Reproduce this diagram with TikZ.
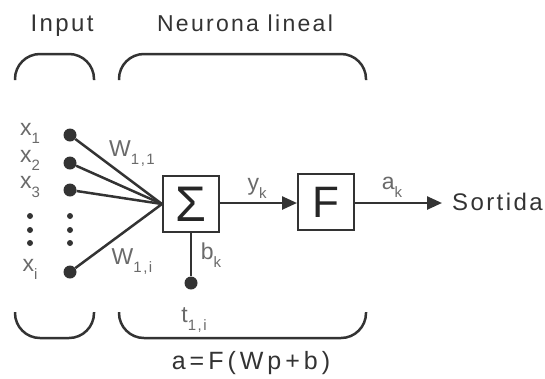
\documentclass[tikz,border=0pt]{standalone}
\usepackage{fontspec}
\setmainfont{Liberation Sans}[LetterSpace=10]
\newfontfamily\widefont{Liberation Sans}[LetterSpace=16]
\usetikzlibrary{arrows.meta}
\definecolor{ink}{HTML}{333333}
\definecolor{lbl}{HTML}{6A6A6A}
\newcommand{\lsub}[1]{\raisebox{-0.35em}{\fontsize{15}{15}\selectfont #1}}
\tikzset{
  dot/.style={circle,fill=ink,inner sep=0pt,minimum size=13pt},
  sdot/.style={circle,fill=ink,inner sep=0pt,minimum size=6pt},
  blk/.style={draw=ink,line width=2pt,minimum size=56pt,inner sep=0pt,text=black!85},
  wire/.style={draw=ink,line width=2.5pt},
  arr/.style={wire,-{Triangle[length=15pt,width=13pt]}},
  brk/.style={draw=ink,line width=2.5pt,rounded corners=25pt},
  lab/.style={text=lbl,font=\fontsize{23}{23}\selectfont,inner sep=0pt},
  head/.style={text=ink,font=\fontsize{23}{23}\selectfont,inner sep=0pt,anchor=base},
}
\begin{document}
\begin{tikzpicture}[x=1pt,y=-1pt]
\useasboundingbox (0,0) rectangle (545,378);
% headers
\node[head,font=\fontsize{24}{24}\selectfont] (hin) at (62,31) {Input};
\node[head] (hneu) at (245,31) {Neurona lineal};
% brackets
\draw[brk] (15,80) -- (15,54) -- (94,54) -- (94,80);
\draw[brk] (119,80) -- (119,54) -- (366,54) -- (366,80);
\draw[brk] (15,312) -- (15,338) -- (94,338) -- (94,312);
\draw[brk] (119,312) -- (119,338) -- (366,338) -- (366,312);
% inputs
\node[dot] (i1) at (70,135) {};
\node[dot] (i2) at (70,163) {};
\node[dot] (i3) at (70,190) {};
\node[dot] (ii) at (70,272) {};
\node[lab] (x1) at (30,133) {x\lsub{1}};
\node[lab] (x2) at (30,160) {x\lsub{2}};
\node[lab] (x3) at (30,187) {x\lsub{3}};
\node[lab] (xi) at (30,269) {x\lsub{i}};
\foreach \y/\n in {216/a,230/b,243/c}{
  \node[sdot] (l\n) at (30,\y) {};
  \node[sdot] (r\n) at (70,\y) {};
}
% blocks
\node[blk,font=\fontsize{50}{50}\selectfont] (sum) at (191,204) {Σ};
\node[blk,font=\fontsize{44}{44}\selectfont] (F) at (326,202) {F};
\coordinate (out) at (442,203);
\foreach \n in {i1,i2,i3,ii}{\draw[wire] (\n) -- (sum.west);}
\node[lab] (w11) at (132,154) {W\lsub{1,1}};
\node[lab] (w1i) at (132,262) {W\lsub{1,i}};
% bias
\node[dot] (bias) at (191,283) {};
\draw[wire] (sum.south) -- (bias);
\node[lab] (bk) at (211,255) {b\lsub{k}};
% outputs
\draw[arr] (sum.east |- 0,203) -- (F.west |- 0,203);
\draw[arr] (F.east |- 0,203) -- (out);
\node[lab] (yk) at (257,188) {y\lsub{k}};
\node[lab] (ak) at (392,187) {a\lsub{k}};
\node[head,font=\fontsize{24}{24}\selectfont,anchor=west] (sort) at (452,202) {Sortida};
\node[lab] (t1i) at (194,320) {t\lsub{1,i}};
\node[head,font=\fontsize{25}{25}\selectfont\widefont] (eq) at (251,369) {a=F(Wp+b)};
\end{tikzpicture}
\end{document}
